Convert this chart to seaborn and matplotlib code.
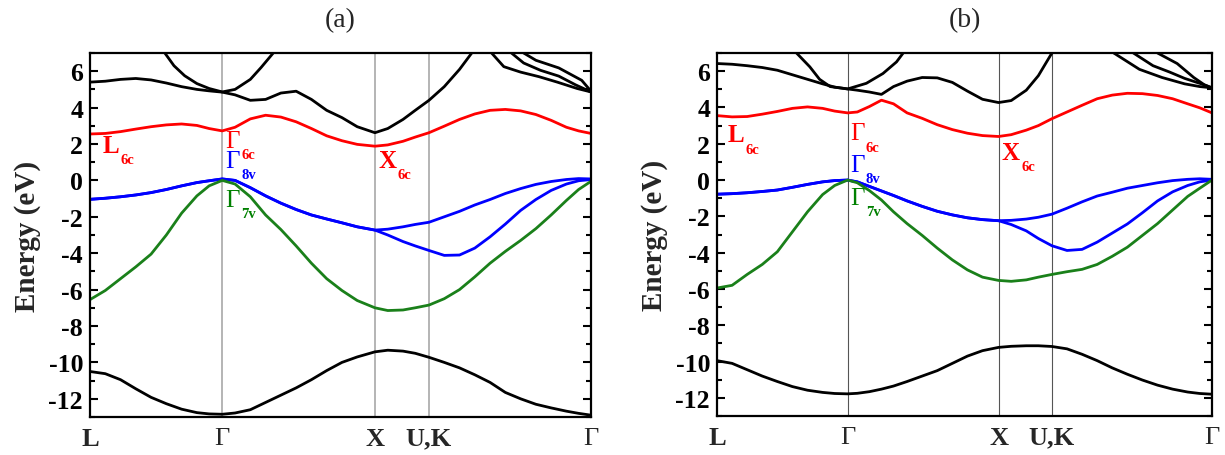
import matplotlib
matplotlib.use('Agg')
import matplotlib.pyplot as plt
from matplotlib.ticker import MultipleLocator
import seaborn as sns

# high symmetry points along the path (units of 2pi/a)
sym_k = [0.0, 0.866, 1.866, 2.220, 3.281]
sym_labels = ['L', 'Γ', 'X', 'U,K', 'Γ']

# ---------------- panel (a) ----------------
ka = [0, 0.1, 0.2, 0.3, 0.4, 0.5, 0.6, 0.7, 0.78, 0.866,
      0.95, 1.05, 1.15, 1.25, 1.35, 1.45, 1.55, 1.65, 1.75, 1.866,
      1.95, 2.05, 2.13, 2.22,
      2.32, 2.42, 2.52, 2.62, 2.72, 2.82, 2.92, 3.02, 3.12, 3.2, 3.281]

a_red = [2.55, 2.58, 2.68, 2.82, 2.95, 3.05, 3.1, 3.02, 2.85, 2.72,
         2.92, 3.38, 3.58, 3.48, 3.22, 2.85, 2.45, 2.18, 1.98, 1.88,
         1.95, 2.15, 2.38, 2.62,
         2.98, 3.35, 3.65, 3.85, 3.9, 3.82, 3.62, 3.3, 2.92, 2.72, 2.58]

a_blue_hh = [-1.04, -0.98, -0.9, -0.8, -0.67, -0.5, -0.3, -0.12, -0.02, 0.08,
             0.0, -0.4, -0.85, -1.25, -1.6, -1.9, -2.12, -2.33, -2.55, -2.73,
             -2.68, -2.55, -2.42, -2.3,
             -2.0, -1.7, -1.35, -1.05, -0.72, -0.45, -0.22, -0.06, 0.05, 0.1, 0.08]

a_blue_lh = [-1.04, -0.98, -0.9, -0.8, -0.67, -0.5, -0.3, -0.12, -0.02, 0.08,
             0.0, -0.4, -0.85, -1.25, -1.6, -1.9, -2.12, -2.33, -2.55, -2.73,
             -3.0, -3.36, -3.6, -3.85,
             -4.12, -4.1, -3.72, -3.1, -2.4, -1.65, -1.05, -0.55, -0.2, -0.02, 0.05]

a_green = [-6.55, -6.05, -5.4, -4.75, -4.05, -3.0, -1.8, -0.85, -0.3, 0.0,
           -0.2, -0.9, -1.9, -2.7, -3.6, -4.55, -5.4, -6.05, -6.6, -7.0,
           -7.15, -7.12, -7.0, -6.85,
           -6.5, -6.0, -5.3, -4.55, -3.9, -3.3, -2.65, -1.9, -1.1, -0.5, -0.05]

a_low = [-10.5, -10.62, -10.95, -11.45, -11.92, -12.27, -12.57, -12.76, -12.83, -12.85,
         -12.78, -12.6, -12.2, -11.8, -11.4, -10.95, -10.45, -10.0, -9.7, -9.42,
         -9.33, -9.38, -9.5, -9.72,
         -10.0, -10.3, -10.68, -11.1, -11.65, -12.0, -12.3, -12.5, -12.68, -12.8, -12.9]

a_c1_k = [0, 0.1, 0.2, 0.3, 0.4, 0.5, 0.6, 0.7, 0.78, 0.866,
          0.95, 1.05, 1.15, 1.25, 1.35, 1.45, 1.55, 1.65, 1.75, 1.866,
          1.95, 2.05, 2.13, 2.22, 2.32, 2.42, 2.5]
a_c1_e = [5.4, 5.45, 5.55, 5.6, 5.52, 5.35, 5.15, 5.0, 4.92, 4.85,
          4.7, 4.4, 4.45, 4.8, 4.9, 4.45, 3.85, 3.45, 2.95, 2.62,
          2.85, 3.35, 3.85, 4.4, 5.15, 6.1, 7.0]

a_par_k = [0.49, 0.55, 0.62, 0.7, 0.78, 0.866, 0.95, 1.05, 1.12, 1.2]
a_par_e = [7.0, 6.3, 5.75, 5.32, 5.05, 4.86, 5.0, 5.55, 6.2, 7.0]

a_r1_k = [2.63, 2.71, 2.82, 2.94, 3.06, 3.19, 3.281]
a_r1_e = [7.0, 6.25, 5.95, 5.7, 5.4, 5.05, 4.86]
a_r2_k = [2.76, 2.84, 2.95, 3.07, 3.18, 3.281]
a_r2_e = [7.0, 6.45, 6.05, 5.73, 5.25, 4.86]
a_r3_k = [2.84, 2.92, 3.07, 3.22, 3.281]
a_r3_e = [7.0, 6.6, 6.18, 5.5, 4.9]

# ---------------- panel (b) ----------------
kb = [0, 0.1, 0.2, 0.3, 0.4, 0.5, 0.6, 0.7, 0.78, 0.866,
      0.93, 1.01, 1.09, 1.17, 1.26, 1.36, 1.46, 1.56, 1.66, 1.76, 1.866,
      1.95, 2.05, 2.13, 2.22,
      2.32, 2.42, 2.52, 2.62, 2.72, 2.82, 2.92, 3.02, 3.12, 3.2, 3.281]

b_red = [3.55, 3.48, 3.5, 3.63, 3.78, 3.95, 4.03, 3.95, 3.8, 3.7,
         3.75, 4.05, 4.4, 4.2, 3.7, 3.4, 3.05, 2.78, 2.58, 2.45, 2.4,
         2.5, 2.75, 3.0, 3.38,
         3.75, 4.12, 4.48, 4.68, 4.78, 4.76, 4.66, 4.48, 4.2, 3.98, 3.7]

b_blue_hh = [-0.78, -0.75, -0.7, -0.63, -0.55, -0.4, -0.24, -0.1, -0.03, 0.0,
             -0.1, -0.35, -0.6, -0.85, -1.15, -1.45, -1.72, -1.92, -2.08, -2.18, -2.24,
             -2.22, -2.15, -2.05, -1.88,
             -1.55, -1.2, -0.88, -0.67, -0.45, -0.3, -0.15, -0.03, 0.04, 0.07, 0.04]

b_blue_lh = [-0.78, -0.75, -0.7, -0.63, -0.55, -0.4, -0.24, -0.1, -0.03, 0.0,
             -0.1, -0.35, -0.6, -0.85, -1.15, -1.45, -1.72, -1.92, -2.08, -2.18, -2.24,
             -2.45, -2.8, -3.22, -3.62,
             -3.88, -3.82, -3.42, -2.92, -2.42, -1.8, -1.15, -0.65, -0.3, -0.1, 0.0]

b_green = [-5.95, -5.8, -5.2, -4.65, -3.95, -2.85, -1.75, -0.8, -0.3, 0.0,
           -0.15, -0.58, -1.1, -1.75, -2.4, -3.05, -3.75, -4.4, -4.95, -5.35, -5.53,
           -5.58, -5.5, -5.35, -5.2,
           -5.05, -4.92, -4.65, -4.2, -3.7, -3.05, -2.4, -1.65, -0.9, -0.45, 0.0]

b_low = [-9.95, -10.1, -10.45, -10.8, -11.1, -11.38, -11.58, -11.7, -11.76, -11.78,
         -11.75, -11.66, -11.52, -11.35, -11.1, -10.8, -10.5, -10.1, -9.7, -9.4, -9.22,
         -9.16, -9.13, -9.13, -9.17,
         -9.3, -9.6, -9.95, -10.35, -10.7, -11.02, -11.3, -11.52, -11.68, -11.76, -11.8]

b_c1_k = [0, 0.1, 0.2, 0.3, 0.4, 0.5, 0.6, 0.7, 0.78, 0.866,
          0.93, 1.01, 1.09, 1.17, 1.26, 1.36, 1.46, 1.56, 1.66, 1.76, 1.866,
          1.95, 2.05, 2.13, 2.22]
b_c1_e = [6.42, 6.38, 6.3, 6.2, 6.05, 5.8, 5.55, 5.3, 5.12, 5.02,
          4.95, 4.85, 4.72, 5.15, 5.45, 5.65, 5.63, 5.38, 4.9, 4.45, 4.27,
          4.38, 4.95, 5.75, 7.0]

b_par_k = [0.527, 0.615, 0.68, 0.75, 0.866, 0.99, 1.1, 1.19, 1.234]
b_par_e = [7.0, 6.24, 5.55, 5.15, 5.02, 5.33, 5.87, 6.51, 7.0]

b_r1_k = [2.63, 2.8, 2.95, 3.1, 3.2, 3.281]
b_r1_e = [7.0, 6.1, 5.65, 5.3, 5.15, 5.08]
b_r2_k = [2.76, 2.89, 3.0, 3.1, 3.21, 3.281]
b_r2_e = [7.0, 6.3, 5.95, 5.6, 5.3, 5.08]
b_r3_k = [2.92, 3.05, 3.16, 3.23, 3.281]
b_r3_e = [7.0, 6.42, 5.65, 5.25, 5.08]

# label positions (k, E at baseline) for the band-edge names
a_marks = [(0.085, 1.57, 'L', '6c', 'red'), (0.885, 1.84, 'Γ', '6c', 'red'),
           (0.885, 0.75, 'Γ', '8v', 'blue'), (0.885, -1.38, 'Γ', '7v', 'green'),
           (1.887, 0.75, 'X', '6c', 'red')]
b_marks = [(0.071, 2.13, 'L', '6c', 'red'), (0.88, 2.24, 'Γ', '6c', 'red'),
           (0.88, 0.49, 'Γ', '8v', 'blue'), (0.88, -1.31, 'Γ', '7v', 'green'),
           (1.889, 1.15, 'X', '6c', 'red')]

sns.set_style('ticks')
plt.rcParams['font.family'] = ['Liberation Serif', 'DejaVu Serif']
plt.rcParams['axes.unicode_minus'] = False

RED, BLUE, GREEN, BLACK = '#ff0000', '#0000ff', '#1a801a', 'black'

fig = plt.figure(figsize=(12.25, 4.56), dpi=100)
ax1 = fig.add_axes([90 / 1225, 38 / 456, 501 / 1225, 364 / 456])
ax2 = fig.add_axes([717 / 1225, 39 / 456, 495 / 1225, 363 / 456])


def draw_panel(ax, k, red, hh, lh, green, low, c1k, c1e, park, pare, rights,
               marks, title, vcolor, vwidth):
    for x in sym_k[1:-1]:
        ax.axvline(x, color=vcolor, lw=vwidth, zorder=0)
    lines = [(c1k, c1e, BLACK), (park, pare, BLACK)] + [(rk, re, BLACK) for rk, re in rights]
    lines += [(k, low, BLACK), (k, red, RED), (k, lh, BLUE), (k, hh, BLUE), (k, green, GREEN)]
    for xs, ys, c in lines:
        sns.lineplot(x=xs, y=ys, ax=ax, color=c, linewidth=2.0, sort=False,
                     estimator=None, legend=False)

    ax.set_xlim(sym_k[0], sym_k[-1])
    ax.set_ylim(-13, 7)
    ax.set_xticks(sym_k)
    ax.set_xticklabels(sym_labels)
    ax.yaxis.set_major_locator(MultipleLocator(2))
    ax.yaxis.set_minor_locator(MultipleLocator(1))
    ax.tick_params(axis='x', length=0, pad=7, labelsize=19)
    ax.tick_params(axis='y', which='both', direction='in', left=True, right=True,
                   labelsize=18.5, width=1.5, colors='black', pad=5)
    ax.tick_params(axis='y', which='major', length=6)
    ax.tick_params(axis='y', which='minor', length=3.5)
    for lbl in ax.get_xticklabels():
        lbl.set_fontweight('normal' if lbl.get_text() == 'Γ' else 'bold')
    for lbl in ax.get_yticklabels():
        lbl.set_fontweight('bold')
    for sp in ax.spines.values():
        sp.set_visible(True)
        sp.set_linewidth(1.6)
        sp.set_color('black')
    ax.set_ylabel('Energy (eV)', fontsize=21, fontweight='bold', labelpad=5)
    ax.set_xlabel('')
    ax.set_title(title, fontsize=20, fontweight='normal', pad=19)

    for x, y, main, sub, c in marks:
        t = ax.text(x, y, main, color=c, fontsize=18, ha='left', va='baseline',
                    fontweight='normal' if main == 'Γ' else 'bold')
        ax.annotate(sub, xy=(1, 0), xycoords=t, xytext=(1, -4.5),
                    textcoords='offset points', color=c, fontsize=10.5,
                    fontweight='bold', ha='left', va='baseline')


draw_panel(ax1, ka, a_red, a_blue_hh, a_blue_lh, a_green, a_low, a_c1_k, a_c1_e,
           a_par_k, a_par_e, [(a_r1_k, a_r1_e), (a_r2_k, a_r2_e), (a_r3_k, a_r3_e)],
           a_marks, '(a)', '#a8a8a8', 1.2)
draw_panel(ax2, kb, b_red, b_blue_hh, b_blue_lh, b_green, b_low, b_c1_k, b_c1_e,
           b_par_k, b_par_e, [(b_r1_k, b_r1_e), (b_r2_k, b_r2_e), (b_r3_k, b_r3_e)],
           b_marks, '(b)', '#555555', 0.8)

fig.savefig('out.png', dpi=100)
